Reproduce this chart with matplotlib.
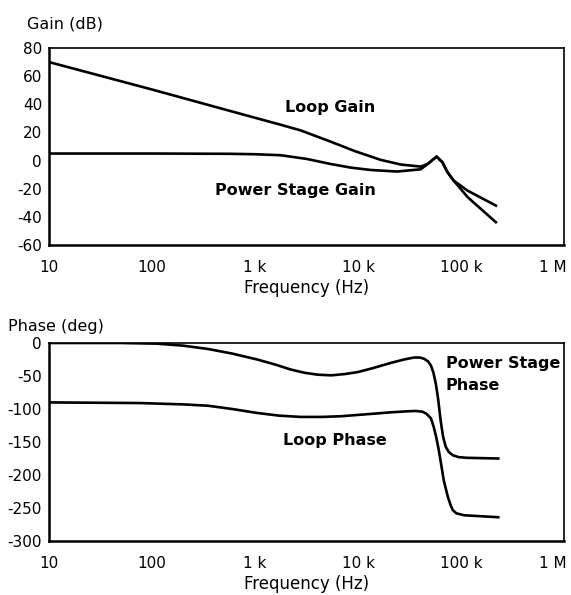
import matplotlib
matplotlib.use("Agg")
import matplotlib.pyplot as plt
from matplotlib.transforms import ScaledTranslation

# ---- data ----
freq_ticks = [10, 100, 1e3, 1e4, 1e5, 1e6]
freq_tick_labels = ["10", "100", "1 k", "10 k", "100 k", "1 M"]

gain_ticks = [80, 60, 40, 20, 0, -20, -40, -60]
phase_ticks = [0, -50, -100, -150, -200, -250, -300]

loop_gain_freq = [10, 100, 577, 1766, 2760, 5400, 9500, 16600, 26000, 40600,
                  47500, 53000, 58000, 66000, 74000, 85000, 116000, 218000]
loop_gain_db = [70, 50.5, 35.2, 25.5, 21.5, 13.5, 6.5, 0.5, -2.8, -4.3,
                -2.4, 0.5, 2.8, -1.2, -8.3, -14.3, -26.0, -43.8]

ps_gain_freq = [10, 100, 577, 1000, 1766, 3160, 5400, 8500, 13300, 24000, 40600,
                47500, 53000, 58000, 66000, 74000, 85000, 116000, 218000]
ps_gain_db = [5, 5, 4.8, 4.5, 3.8, 1.2, -2.4, -5.0, -6.7, -7.8, -6.2,
              -2.4, 0.5, 2.8, -1.2, -8.3, -14.3, -21.4, -32.0]

ps_phase_freq = [10, 50, 112, 200, 348, 600, 1050, 1600, 2200, 3000, 4060, 5500,
                 7500, 10000, 14000, 21000, 28000, 35000, 40000, 44000, 48000,
                 51000, 54000, 57000, 60000, 63500, 67000, 71000, 76000, 83000,
                 95000, 116000, 230000]
ps_phase_deg = [0, 0, -1, -4, -9, -16, -25, -33, -40, -45, -48, -49,
                -47, -44, -38, -30, -25, -22, -22, -24, -28,
                -34, -45, -62, -85, -118, -142, -157, -165, -170,
                -173, -174, -175]

loop_phase_freq = [10, 77, 200, 348, 600, 1050, 1700, 2760, 4500, 6800, 12000,
                   21000, 30000, 36000, 42000, 46000, 51000, 54300, 57500, 60800,
                   64500, 68000, 74500, 79000, 83000, 90000, 107000, 230000]
loop_phase_deg = [-90, -91, -93, -95, -100, -106, -110, -112, -112, -111, -108,
                  -105, -103.5, -103, -104, -107, -114, -127, -143, -162,
                  -186, -208, -233, -245, -253, -258, -261, -264]

# ---- figure ----
W, H = 571, 595
fig = plt.figure(figsize=(W / 100, H / 100), dpi=100)

def axes_px(left, top, right, bottom):
    return fig.add_axes([left / W, 1 - bottom / H, (right - left) / W, (bottom - top) / H])

ax1 = axes_px(49, 48, 564, 245)
ax2 = axes_px(49, 343, 564, 541)

lw = 1.9
ax1.semilogx(loop_gain_freq, loop_gain_db, color="black", lw=lw)
ax1.semilogx(ps_gain_freq, ps_gain_db, color="black", lw=lw)
ax2.semilogx(ps_phase_freq, ps_phase_deg, color="black", lw=lw)
ax2.semilogx(loop_phase_freq, loop_phase_deg, color="black", lw=lw)

for ax, yt in ((ax1, gain_ticks), (ax2, phase_ticks)):
    ax.set_xlim(10, 1e6)
    ax.set_xticks(freq_ticks)
    ax.set_xticklabels(freq_tick_labels)
    ax.xaxis.set_minor_locator(matplotlib.ticker.NullLocator())
    ax.set_yticks(yt)
    ax.set_yticklabels([str(v) for v in yt])
    ax.tick_params(axis="both", length=0, labelsize=11)
    ax.tick_params(axis="x", pad=11)
    ax.tick_params(axis="y", pad=5)
    ax.set_xlabel("Frequency (Hz)", fontsize=12, labelpad=3)
    last = ax.get_xticklabels()[-1]
    last.set_horizontalalignment("right")
    last.set_transform(last.get_transform() + ScaledTranslation(3 / 100, 0, fig.dpi_scale_trans))
    for s in ("left", "bottom"):
        ax.spines[s].set_linewidth(1.8)
    for s in ("top", "right"):
        ax.spines[s].set_linewidth(1.2)

ax1.set_ylim(-60, 80)
ax2.set_ylim(-300, 0)

fig.text(27 / W, 1 - 24 / H, "Gain (dB)", fontsize=11.5, ha="left", va="center")
fig.text(8 / W, 1 - 326 / H, "Phase (deg)", fontsize=11.5, ha="left", va="center")

bold = dict(fontsize=11.5, fontweight="bold", ha="left", va="baseline")
ax1.text(1977, 34.5, "Loop Gain", **bold)
ax1.text(412, -24.5, "Power Stage Gain", **bold)
ax2.text(71000, -38, "Power Stage", **bold)
ax2.text(71000, -71, "Phase", **bold)
ax2.text(1890, -154.5, "Loop Phase", **bold)

fig.savefig("out.png", dpi=100)
